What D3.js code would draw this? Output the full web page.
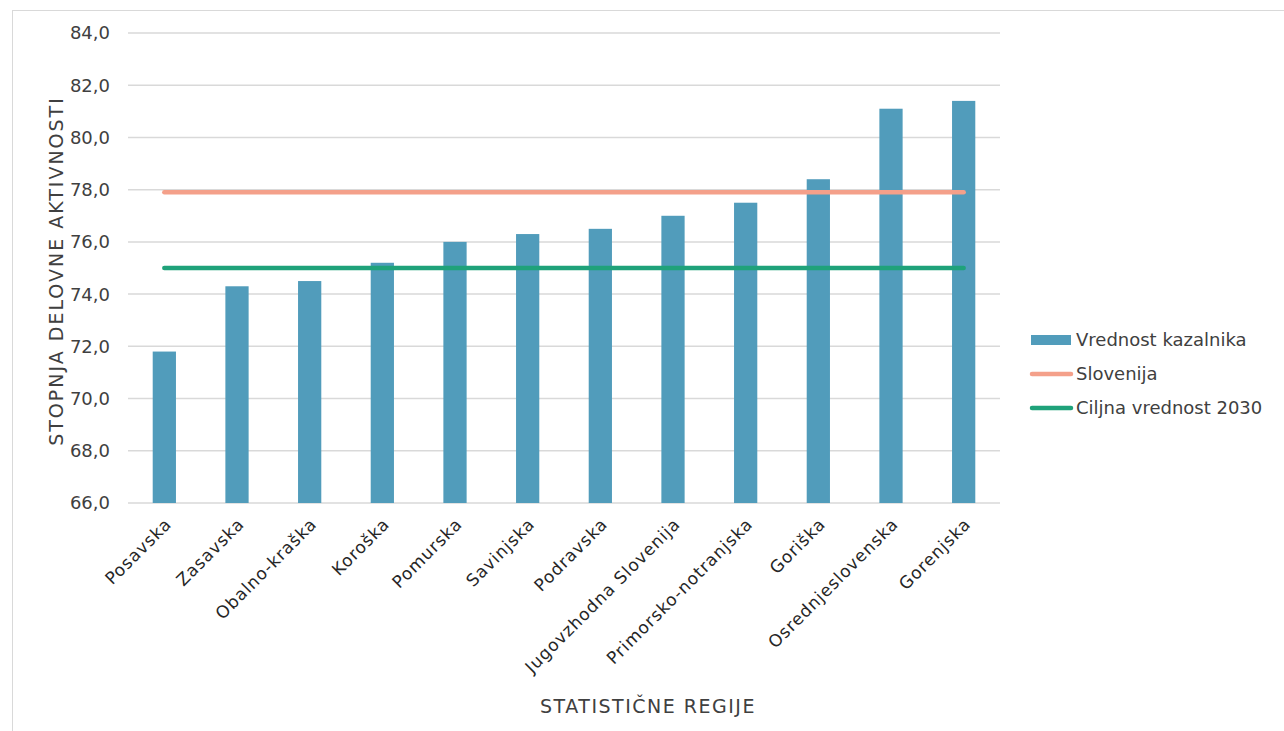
<!DOCTYPE html>
<html><head><meta charset="utf-8">
<script src="https://cdn.jsdelivr.net/npm/d3@7"></script>
<style>
html,body{margin:0;padding:0;background:#fff;}
svg{display:block;}
text{font-family:"DejaVu Sans","Noto Sans",sans-serif;fill:#404040;}
</style></head>
<body>
<svg id="c" width="1284" height="731"></svg>
<script>
const categories = ["Posavska","Zasavska","Obalno-kraška","Koroška","Pomurska","Savinjska","Podravska","Jugovzhodna Slovenija","Primorsko-notranjska","Goriška","Osrednjeslovenska","Gorenjska"];
const values = [71.8,74.3,74.5,75.2,76.0,76.3,76.5,77.0,77.5,78.4,81.1,81.4];
const sloveniaValue = 77.9;
const targetValue = 75.0;
const yTicks = [66,68,70,72,74,76,78,80,82,84];
const legendLabels = ["Vrednost kazalnika","Slovenija","Ciljna vrednost 2030"];
const colors = {bar:"#519cbb", slo:"#f4a08a", target:"#1fa27a", grid:"#d9d9d9"};

const svg = d3.select("#c");
const m = {left:128, right:1000, top:33, bottom:503};

svg.append("rect").attr("x",12.5).attr("y",10.5).attr("width",1290).attr("height",740)
  .attr("fill","none").attr("stroke","#d9d9d9").attr("stroke-width",1);

const x = d3.scaleBand().domain(categories).range([m.left,m.right]).paddingInner(0.68).paddingOuter(0.34);
const y = d3.scaleLinear().domain([66,84]).range([m.bottom,m.top]);

// gridlines
svg.append("g").selectAll("line").data(yTicks).join("line")
  .attr("x1",m.left).attr("x2",m.right)
  .attr("y1",d=>y(d)).attr("y2",d=>y(d))
  .attr("stroke",colors.grid).attr("stroke-width",1.5);

// y tick labels
const fmt = d => d.toFixed(1).replace(".",",");
svg.append("g").selectAll("text").data(yTicks).join("text")
  .attr("x",110).attr("y",d=>y(d)).attr("dy","0.36em")
  .attr("text-anchor","end").style("font-size","18px").text(fmt);

// bars
svg.append("g").selectAll("rect").data(values).join("rect")
  .attr("x",(d,i)=>x(categories[i])).attr("width",x.bandwidth())
  .attr("y",d=>y(d)).attr("height",d=>y(66)-y(d))
  .attr("fill",colors.bar);

// lines
const cx = c => x(c)+x.bandwidth()/2;
const line = d3.line().x(d=>cx(d[0])).y(d=>y(d[1]));
svg.append("path").datum(categories.map(c=>[c,sloveniaValue])).attr("d",line)
  .attr("fill","none").attr("stroke",colors.slo).attr("stroke-width",4.5).attr("stroke-linecap","round");
svg.append("path").datum(categories.map(c=>[c,targetValue])).attr("d",line)
  .attr("fill","none").attr("stroke",colors.target).attr("stroke-width",4.5).attr("stroke-linecap","round");

// x labels
svg.append("g").selectAll("text").data(categories).join("text")
  .attr("transform",c=>`translate(${cx(c)+4},${m.bottom+18}) rotate(-45)`)
  .attr("text-anchor","end").attr("dy","0.35em")
  .style("font-size","17px").style("letter-spacing","0.9px").style("fill","#262626").text(d=>d);

// axis titles
svg.append("text").attr("transform",`translate(63,${(m.top+m.bottom)/2+3}) rotate(-90)`)
  .attr("text-anchor","middle").style("font-size","19px").style("letter-spacing","2px")
  .text("STOPNJA DELOVNE AKTIVNOSTI");
svg.append("text").attr("x",648).attr("y",713).attr("text-anchor","middle")
  .style("font-size","19px").style("letter-spacing","1.5px")
  .text("STATISTIČNE REGIJE");

// legend
const lg = svg.append("g");
const rows = [340,374,408];
legendLabels.forEach((l,i)=>{
  if(i===0){
    lg.append("rect").attr("x",1031).attr("y",rows[i]-5).attr("width",40).attr("height",10).attr("fill",colors.bar);
  } else {
    lg.append("line").attr("x1",1032).attr("x2",1071).attr("y1",rows[i]).attr("y2",rows[i])
      .attr("stroke",i===1?colors.slo:colors.target).attr("stroke-width",4.5).attr("stroke-linecap","round");
  }
  lg.append("text").attr("x",1076).attr("y",rows[i]).attr("dy","0.36em").style("font-size","18px").text(l);
});
</script>
</body></html>
